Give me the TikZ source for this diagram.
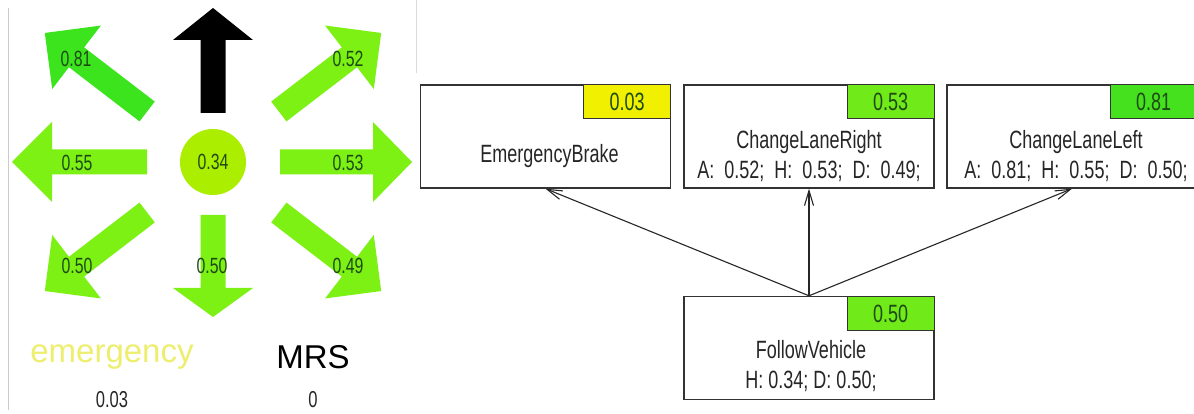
\documentclass[tikz,border=0pt]{standalone}
\usepackage{fontspec}
\setmainfont{Liberation Sans}
\newfontfamily\narrowfont[FakeStretch=0.72]{Liberation Sans}
\usetikzlibrary{arrows.meta,positioning}

\definecolor{limegreen}{RGB}{125,240,20}
\definecolor{deepgreen}{RGB}{60,228,30}
\definecolor{yellowgreen}{RGB}{172,238,0}
\definecolor{boxgreen}{RGB}{112,234,25}
\definecolor{boxdeep}{RGB}{70,225,30}
\definecolor{boxyellow}{RGB}{240,240,0}
\definecolor{numtext}{RGB}{30,75,20}
\definecolor{paleyellow}{RGB}{238,238,110}

\newcommand{\widespaces}{\spaceskip 10pt\relax}

% direction arrow: angle, inner end, head base, tip, colour
\newcommand{\dirarrow}[5]{%
	\begin{scope}[shift={(213,252)},rotate=#1]
		\fill[#5] (#2,-12.5) -- (#3,-12.5) -- (#3,-40) -- (#4,0) -- (#3,40) -- (#3,12.5) -- (#2,12.5) -- cycle;
	\end{scope}}

\begin{document}
\begin{tikzpicture}
			[x=1pt,y=1pt,
			num/.style={font=\narrowfont\fontsize{22}{26}\selectfont,text=numtext},
			big/.style={font=\fontsize{33}{38}\selectfont},
			small/.style={font=\narrowfont\fontsize{23}{26}\selectfont,text=black!85},
			taskbox/.style={draw=black!80,line width=1.4pt,minimum width=250pt,minimum height=103pt,inner sep=0pt},
			tasktext/.style={font=\narrowfont\fontsize{25}{30}\selectfont,text=black!85,align=center},
			widetext/.style={tasktext,font=\narrowfont\fontsize{25}{30}\selectfont\widespaces},
			valbox/.style={draw=black!80,line width=1.2pt,minimum width=87pt,minimum height=34pt,anchor=north east,
				font=\narrowfont\fontsize{25}{28}\selectfont,text=numtext,inner sep=0pt},
			link/.style={-{Straight Barb[length=15pt,width=9pt]},line width=1.1pt,black!85}]
			\fill[white] (0,0) rectangle (1194,414);
			\useasboundingbox (0,0) rectangle (1194,414);
			\draw[black!20,line width=1.5pt] (8.5,4) -- (8.5,406);
			\draw[black!15,line width=1pt] (416,341) -- (416,414);

			\dirarrow{90}{49}{122}{154}{black}
			\dirarrow{270}{53}{126}{155}{limegreen}
			\dirarrow{180}{66}{161}{201}{limegreen}
			\dirarrow{0}{67}{160}{199}{limegreen}
			\dirarrow{142.5}{83}{172}{212}{deepgreen}
			\dirarrow{37.5}{83}{172}{212}{limegreen}
			\dirarrow{217.5}{83}{172}{212}{limegreen}
			\dirarrow{322.5}{83}{172}{212}{limegreen}
			\node[circle,fill=yellowgreen,minimum size=66pt,inner sep=0pt,num] (center) at (213,252) {0.34};

			\node[num] (ul) at (76,355) {0.81};
			\node[num] (ur) at (348,355) {0.52};
			\node[num] (ml) at (77,251) {0.55};
			\node[num] (mr) at (348,251) {0.53};
			\node[num] (ll) at (77,148) {0.50};
			\node[num] (lm) at (212,148) {0.50};
			\node[num] (lr) at (348,148) {0.49};

			\node[big,text=paleyellow] (emerg) at (112,57) {emergency};
			\node[big] (mrs) at (313,57) {MRS};
			\node[small] (emerg-v) at (112,14) {0.03};
			\node[small] (mrs-v) at (313,14) {0};

			\node[taskbox] (brake) at (545.5,277.5) {};
			\node[taskbox] (right) at (809,277.5) {};
			\node[taskbox] (left) at (1072,277.5) {};
			\node[taskbox] (follow) at (809,66) {};

			\node[valbox,fill=boxyellow] (brake-v) at (brake.north east) {0.03};
			\node[valbox,fill=boxgreen] (right-v) at (right.north east) {0.53};
			\node[valbox,fill=boxdeep] (left-v) at (left.north east) {0.81};
			\node[valbox,fill=boxgreen] (follow-v) at (follow.north east) {0.50};

			\node[tasktext] (brake-t) at ([xshift=4pt,yshift=-20pt]brake.center) {EmergencyBrake};
			\node[widetext] (right-t) at ([yshift=-20pt]right.center) {ChangeLaneRight\\A: 0.52; H: 0.53; D: 0.49;};
			\node[widetext] (left-t) at ([xshift=4pt,yshift=-20pt]left.center) {ChangeLaneLeft\\A: 0.81; H: 0.55; D: 0.50;};
			\node[tasktext] (follow-t) at ([xshift=2pt,yshift=-18pt]follow.center) {FollowVehicle\\H: 0.34; D: 0.50;};

			\draw[link] (follow.north) -- (brake.south);
			\draw[link] (follow.north) -- (right.south);
			\draw[link] (follow.north) -- (left.south);
		\end{tikzpicture}
\end{document}
